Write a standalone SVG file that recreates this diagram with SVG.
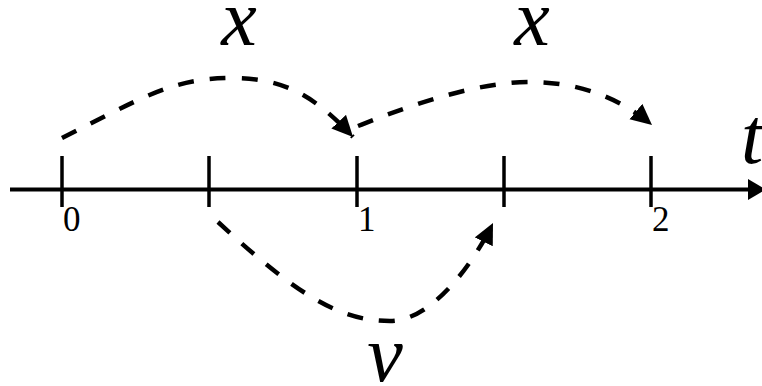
<svg xmlns="http://www.w3.org/2000/svg" width="762" height="386" viewBox="0 0 762 386">
<style>
.axis{stroke:#000;stroke-width:4;fill:none}
.tick{stroke:#000;stroke-width:3.5;fill:none}
.conn{stroke:#000;stroke-width:4.5;fill:none;stroke-dasharray:16 16;marker-end:url(#ah)}
.num{font-family:"Liberation Serif","Times New Roman",serif;font-size:35px;fill:#000}
.var{font-family:"Liberation Serif","Times New Roman",serif;font-style:italic;font-size:80px;fill:#000}
</style>
<defs>
<marker id="ah" markerUnits="userSpaceOnUse" markerWidth="24" markerHeight="22" refX="21" refY="10" orient="auto" viewBox="0 0 24 22">
<path d="M0,0 L21,10 L0,20 z" fill="#000" stroke="none"/>
</marker>
</defs>
<g id="axis">
<line class="axis" x1="10" y1="189.5" x2="750" y2="189.5"/>
<polygon points="748,179 766,189.5 748,200" fill="#000"/>
<text class="var" x="741" y="163">t</text>
</g>
<g id="tick0"><line class="tick" x1="62" y1="156" x2="62" y2="207"/><text class="num" x="63" y="231">0</text></g>
<g id="tickA"><line class="tick" x1="209" y1="156" x2="209" y2="207"/></g>
<g id="tick1"><line class="tick" x1="357" y1="156" x2="357" y2="207"/><text class="num" x="358" y="231">1</text></g>
<g id="tickB"><line class="tick" x1="504" y1="156" x2="504" y2="207"/></g>
<g id="tick2"><line class="tick" x1="651" y1="156" x2="651" y2="207"/><text class="num" x="652" y="231">2</text></g>
<g id="connectors">
<path class="conn" d="M62,138 C142,98 172,78 232,78 C282,78 313,94 353,137"/>
<path class="conn" d="M358,126 C418,102 480,82 530,82 C575,82 617,95.6 652,125"/>
<path class="conn" d="M218,222 C298,296 340,321 390,321 C430,321 471,268 493,223"/>
</g>
<g id="labels">
<text class="var" x="239" y="45" text-anchor="middle">x</text>
<text class="var" x="532" y="45" text-anchor="middle">x</text>
<text class="var" x="385" y="381" text-anchor="middle">v</text>
</g>
</svg>
